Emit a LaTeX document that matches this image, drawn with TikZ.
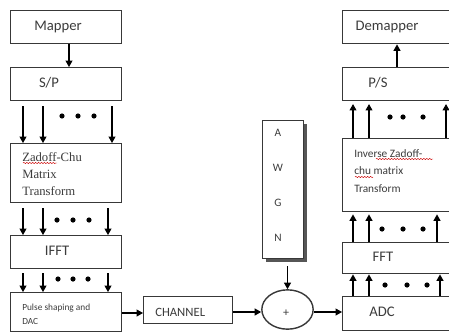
\documentclass[tikz,border=0pt]{standalone}
\usepackage{fontspec}
\setmainfont{Carlito}
\newfontfamily\serifzc{Liberation Serif}
\usetikzlibrary{arrows.meta,decorations.pathmorphing,shapes.geometric}
\definecolor{linec}{HTML}{383838}
\definecolor{txtc}{HTML}{3C3C3C}
\tikzset{
  blk/.style={draw=linec, line width=1.05pt, fill=white, anchor=north west, inner sep=0pt},
  arr/.style={draw=black, line width=0.8pt, -{Triangle[length=4.8pt,width=5.2pt]}},
  lbl/.style={text=txtc, inner sep=0pt, font=\fontsize{11}{13}\selectfont},
  dot/.style={fill=black},
  squig/.style={draw=red!80!black, line width=0.35pt, decorate, decoration={snake, amplitude=0.45pt, segment length=2.2pt}}
}
\begin{document}
\begin{tikzpicture}[x=0.75pt, y=-0.75pt]
\clip (0,0) rectangle (449,332);
\fill[white] (0,0) rectangle (449,332);

% ---------- left column ----------
\node[blk, minimum width=83.25pt, minimum height=24.75pt] (mapper) at (10,10) {};
\node[lbl] (mapperT) at (58,27) {Mapper};
\node[blk, minimum width=83.25pt, minimum height=24.75pt] (sp) at (10,67) {};
\node[lbl] (spT) at (49,83) {S/P};
\node[blk, minimum width=83.25pt, minimum height=44.25pt] (zc) at (10,143) {};
\node[lbl, anchor=west, align=left, font=\serifzc\fontsize{9.5}{12.9}\selectfont] (zcT) at (22,174) {Zadoff-Chu\\Matrix\\Transform};
\node[blk, minimum width=83.25pt, minimum height=24.75pt] (ifft) at (10,235) {};
\node[lbl] (ifftT) at (57,251) {IFFT};
\node[blk, minimum width=83.25pt, minimum height=29pt] (pulse) at (10,292) {};
\node[lbl, anchor=west, align=left, font=\fontsize{7}{10.5}\selectfont] (pulseT) at (22,314) {Pulse shaping and\\DAC};

% ---------- channel ----------
\node[blk, minimum width=66.75pt, minimum height=20.25pt] (chan) at (143,296) {};
\node[lbl, anchor=west, font=\fontsize{9.5}{11}\selectfont] (chanT) at (155,312) {CHANNEL};
\node[draw=linec, line width=1.05pt, ellipse, minimum width=38.5pt, minimum height=29.5pt, inner sep=0pt] (sum) at (287.5,309.5) {};
\node[lbl, font=\fontsize{9}{10}\selectfont] (sumT) at (286,313) {+};

% AWGN box with shadow
\fill[linec!85] (265.5,123.5) rectangle (306.5,261.5);
\node[blk, minimum width=30.75pt, minimum height=103.5pt] (awgn) at (262,120) {};
\node[lbl, align=center, font=\fontsize{8.5}{26.25}\selectfont] (awgnT) at (278,185) {A\\W\\G\\N};

% ---------- right column ----------
\node[blk, minimum width=90pt, minimum height=24.75pt] (demap) at (342,10) {};
\node[lbl] (demapT) at (387,27) {Demapper};
\node[blk, minimum width=90pt, minimum height=24.75pt] (ps) at (342,67) {};
\node[lbl] (psT) at (378,83) {P/S};
\node[blk, minimum width=90pt, minimum height=54.75pt] (izc) at (342,138) {};
\node[lbl, anchor=west, align=left, font=\fontsize{8.5}{13.1}\selectfont] (izcT) at (354,171) {Inverse Zadoff-\\chu matrix\\Transform};
\node[blk, minimum width=90pt, minimum height=23.25pt] (fft) at (342,242) {};
\node[lbl] (fftT) at (383,257) {FFT};
\node[blk, minimum width=90pt, minimum height=25.5pt] (adc) at (342,296) {};
\node[lbl] (adcT) at (382,312) {ADC};

% ---------- x positions for parallel arrows ----------
\coordinate (xm) at (69,0);
\coordinate (xa) at (23,0);
\coordinate (xb) at (43,0);
\coordinate (xc) at (112,0);
\coordinate (xd) at (108,0);
\coordinate (xdm) at (397,0);
\coordinate (ra) at (353,0);
\coordinate (rb) at (369,0);
\coordinate (rc) at (446,0);
\coordinate (rd) at (437,0);
\coordinate (re) at (440,0);
\coordinate (yc) at (0,313);
\coordinate (ys) at (0,312);

% ---------- connectors ----------
\draw[arr] (mapper.south -| xm) -- (sp.north -| xm);
\foreach \c in {xa,xb,xc}
  \draw[arr, shorten <=3.75pt] (sp.south -| \c) -- (zc.north -| \c);
\foreach \c in {xa,xb,xd}
  \draw[arr, shorten <=3.75pt] (zc.south -| \c) -- (ifft.north -| \c);
\foreach \c in {xa,xb,xd}
  \draw[arr, shorten <=3pt] (ifft.south -| \c) -- (pulse.north -| \c);
\draw[arr] (pulse.east |- yc) -- (chan.west |- yc);
\draw[arr] (chan.east |- ys) -- (sum.west |- ys);
\draw[arr, shorten <=5pt] (awgn.south -| sum.north) -- (sum.north);
\draw[arr] (sum.east |- ys) -- (adc.west |- ys);

\foreach \c in {ra,rb,re}
  \draw[arr] (adc.north -| \c) -- (fft.south -| \c);
\foreach \c in {ra,rb,rd}
  \draw[arr, shorten >=1.5pt] (fft.north -| \c) -- (izc.south -| \c);
\foreach \c in {ra,rb,rc}
  \draw[arr, shorten >=2pt] (izc.north -| \c) -- (ps.south -| \c);
\draw[arr] (ps.north -| xdm) -- (demap.south -| xdm);

% ---------- dots ----------
\foreach \x in {62,78,94} \fill[dot] (\x,116) circle (2.6);
\foreach \x in {57,73,89} \fill[dot] (\x,220) circle (2.6);
\foreach \x in {58,73,88} \fill[dot] (\x,279) circle (2.6);
\foreach \x in {390,403,423} \fill[dot] (\x,117) circle (2.6);
\foreach \x in {382,403,423} \fill[dot] (\x,229) circle (2.6);
\foreach \x in {385,407,427} \fill[dot] (\x,285) circle (2.6);

% ---------- spell-check underlines ----------
\draw[squig] (23,163) -- (57,163);
\draw[squig] (376,159) -- (433,159);
\draw[squig] (355,177) -- (373,177);
\end{tikzpicture}
\end{document}
